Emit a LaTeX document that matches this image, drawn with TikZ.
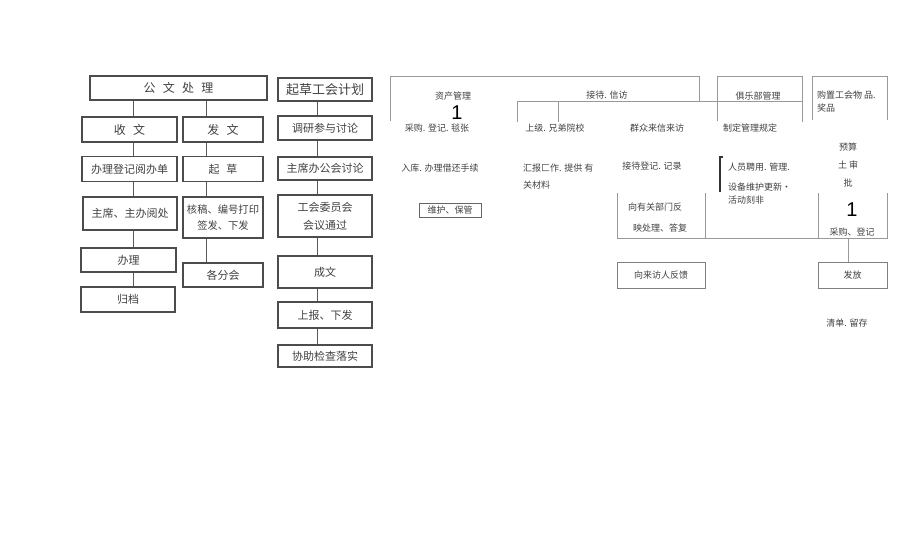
\documentclass[tikz,border=0pt]{standalone}
\usepackage{fontspec}
\usepackage{tikz}
\newfontfamily\cjk{Noto Sans CJK SC}
\newfontfamily\numfont{Liberation Sans}
\tikzset{
  box/.style={draw=black!70, line width=1.2pt, inner sep=0pt, align=center, text=black!75, font=\cjk\fontsize{11}{15}\selectfont},
  link/.style={draw=black!65, line width=1pt},
  note/.style={inner sep=0pt, text=black!75, font=\cjk\fontsize{9}{13}\selectfont},
  openline/.style={draw=black!40, line width=0.8pt},
  num/.style={inner sep=0pt, text=black, font=\numfont\fontsize{20}{20}\selectfont}
}
\begin{document}
\begin{tikzpicture}[x=1pt,y=-1pt]
\useasboundingbox (0,0) rectangle (920,559);

% 公文处理
\node[box, minimum width=177, minimum height=24, font=\cjk\fontsize{12}{15}\selectfont] (gwcl) at (178.5,88) {公\hspace{0.6em}文\hspace{0.6em}处\hspace{0.6em}理};
\node[box, minimum width=95, minimum height=25, font=\cjk\fontsize{12}{15}\selectfont] (sw) at (129.5,129.5) {收\hspace{0.6em}文};
\node[box, minimum width=80, minimum height=25, font=\cjk\fontsize{12}{15}\selectfont] (fw) at (223,129.5) {发\hspace{0.6em}文};
\node[box, minimum width=95, minimum height=25] (bldj) at (129.5,169) {办理登记阅办单};
\node[box, minimum width=80, minimum height=25] (qc) at (223,169) {起\hspace{0.6em}草};
\node[box, minimum width=94, minimum height=33] (zx) at (130,213.5) {主席、主办阅处};
\node[box, minimum width=80, minimum height=41, font=\cjk\fontsize{10.3}{16}\selectfont] (hg) at (223,217.5) {核稿、编号打印\\签发、下发};
\node[box, minimum width=95, minimum height=24] (bl) at (128.5,260) {办理};
\node[box, minimum width=94, minimum height=25] (gd) at (128,299.5) {归档};
\node[box, minimum width=80, minimum height=24] (gfh) at (223,275) {各分会};

% 起草工会计划
\node[box, minimum width=94, minimum height=23, font=\cjk\fontsize{13}{15}\selectfont] (qcjh) at (325,89.5) {起草工会计划};
\node[box, minimum width=94, minimum height=24] (dy) at (325,128) {调研参与讨论};
\node[box, minimum width=94, minimum height=23] (zxbg) at (325,168.5) {主席办公会讨论};
\node[box, minimum width=94, minimum height=42, font=\cjk\fontsize{11}{18}\selectfont] (wyh) at (325,216) {工会委员会\\会议通过};
\node[box, minimum width=94, minimum height=32] (cw) at (325,272) {成文};
\node[box, minimum width=94, minimum height=26] (sb) at (325,315) {上报、下发};
\node[box, minimum width=94, minimum height=22] (xz) at (325,356) {协助检查落实};

\coordinate (c1) at (133,0);
\coordinate (c2) at (206,0);
\coordinate (c3) at (317,0);
\draw[link] (gwcl.south -| c1) -- (sw.north -| c1) (sw.south -| c1) -- (bldj.north -| c1)
  (bldj.south -| c1) -- (zx.north -| c1) (zx.south -| c1) -- (bl.north -| c1)
  (bl.south -| c1) -- (gd.north -| c1);
\draw[link] (gwcl.south -| c2) -- (fw.north -| c2) (fw.south -| c2) -- (qc.north -| c2)
  (qc.south -| c2) -- (hg.north -| c2) (hg.south -| c2) -- (gfh.north -| c2);
\draw[link] (qcjh.south -| c3) -- (dy.north -| c3) (dy.south -| c3) -- (zxbg.north -| c3)
  (zxbg.south -| c3) -- (wyh.north -| c3) (wyh.south -| c3) -- (cw.north -| c3)
  (cw.south -| c3) -- (sb.north -| c3) (sb.south -| c3) -- (xz.north -| c3);

% 资产管理 / 接待 / 俱乐部 / 购置
\draw[openline] (390,121) -- (390,76) -- (699,76) -- (699,101);
\draw[openline] (517,122) -- (517,101) -- (802,101);
\draw[openline] (558,101) -- (558,122);
\draw[openline] (717,121) -- (717,76) -- (802,76) -- (802,122);
\draw[openline] (812,120) -- (812,76) -- (887,76) -- (887,120);
\draw[openline] (617,193) -- (617,238) -- (887,238) -- (887,193);
\draw[openline] (705,193) -- (705,238);
\draw[openline] (818,193) -- (818,238);
\draw[line width=1.2pt, black!80] (723,157) -- (720,157) -- (720,192);

\node[note] (zcgl) at (453,96) {资产管理};
\node[num] (one1) at (457,113) {1};
\node[note] (cgdj) at (437,128) {采购. 登记. 毯张};
\node[note] (rk) at (440,168) {入库. 办理借还手续};
\node[note, draw=black!60, line width=0.8pt, minimum width=62, minimum height=14] (whbg) at (450,210) {维护、保管};

\node[note] (jdxf) at (607,95) {接待. 信访};
\node[note] (sjxd) at (555,128) {上级. 兄弟院校};
\node[note] (qzlx) at (657,128) {群众来信来访};
\node[note, align=left, anchor=west, font=\cjk\fontsize{9}{17}\selectfont] (hbgz) at (523,176.5) {汇报匚作. 提供 有\\关材料};
\node[note] (jddj) at (652,166) {接待登记. 记录};
\node[note] (xygb) at (655,207) {向有关部门反};
\node[note] (ycl) at (660,228) {映处理、答复};
\node[note, draw=black!50, line width=0.8pt, minimum width=88, minimum height=26] (xlf) at (661,275) {向来访人反馈};

\node[note] (jlbgl) at (758,96) {俱乐部管理};
\node[note] (zdgl) at (750,128) {制定管理规定};
\node[note, anchor=west] (rypy) at (728,167) {人员聘用. 管理.};
\node[note, anchor=west] (sbwh) at (728,187) {设备维护更新•};
\node[note, anchor=west] (hdkf) at (728,200) {活动刻非};

\node[note, align=left, anchor=west] (gz) at (817,101.5) {购置工会物 品.\\奖品};
\node[note] (ys) at (848,147) {预算};
\node[note] (tsh) at (848,165) {土 审};
\node[note] (pi) at (848,183) {批};
\node[num] (one2) at (852,210) {1};
\node[note] (cgdj2) at (852,232) {采购、登记};
\node[note, draw=black!50, line width=0.8pt, minimum width=69, minimum height=26] (ff) at (852.5,275) {发放};
\node[note] (qdlc) at (847,323) {清单. 留存};

\coordinate (base) at (848,238);
\draw[openline] (base) -- (ff.north -| base);
\end{tikzpicture}
\end{document}
